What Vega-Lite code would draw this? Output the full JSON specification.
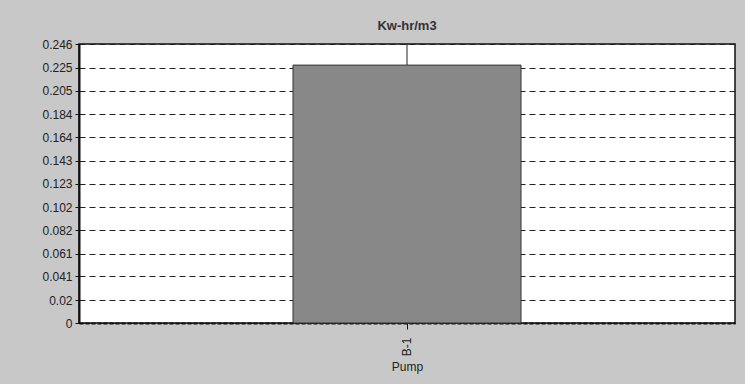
{
  "$schema": "https://vega.github.io/schema/vega-lite/v6.json",
  "autosize": "none",
  "width": 656,
  "height": 279,
  "padding": {"left": 79, "top": 44, "right": 10, "bottom": 61},
  "background": "#c8c8c8",
  "title": {"text": "Kw-hr/m3", "font": "Liberation Sans", "fontSize": 13, "fontWeight": "bold", "color": "#333333", "offset": 5},
  "config": {
    "view": {"fill": "white", "stroke": "#111111", "strokeWidth": 1.5},
    "axis": {"labelFont": "Liberation Sans", "labelFontSize": 12, "labelColor": "#222222", "titleFont": "Liberation Sans", "titleFontSize": 12, "titleFontWeight": "normal", "titleColor": "#222222", "domainColor": "#111111", "tickColor": "#111111"}
  },
  "data": {"values": [{"category": "B-1", "value": 0.2274, "upper": 0.246}]},
  "layer": [
    {
      "mark": {"type": "rule", "color": "#222222", "strokeWidth": 1},
      "encoding": {
        "x": {"field": "category", "type": "nominal"},
        "y": {"field": "value", "type": "quantitative"},
        "y2": {"field": "upper"}
      }
    },
    {
      "mark": {"type": "bar", "color": "#888888", "stroke": "#333333", "strokeWidth": 1, "size": 228},
      "encoding": {
        "x": {"field": "category", "type": "nominal", "title": "Pump",
              "axis": {"labelAngle": -90, "labelPadding": 8, "tickSize": 6, "titlePadding": 6, "grid": false, "domainWidth": 2, "domainDash": [4, 2]}},
        "y": {"field": "value", "type": "quantitative", "title": null,
              "scale": {"domain": [0, 0.246], "nice": false},
              "axis": {"values": [0, 0.02, 0.041, 0.061, 0.082, 0.102, 0.123, 0.143, 0.164, 0.184, 0.205, 0.225, 0.246],
                       "tickCount": 30,
                       "format": ".3~f", "tickSize": 4, "labelPadding": 3, "labelOverlap": false, "labelBound": false,
                       "grid": true, "gridColor": "#222222", "gridDash": [6, 4], "gridWidth": 1, "domainWidth": 2}}
      }
    }
  ]
}
